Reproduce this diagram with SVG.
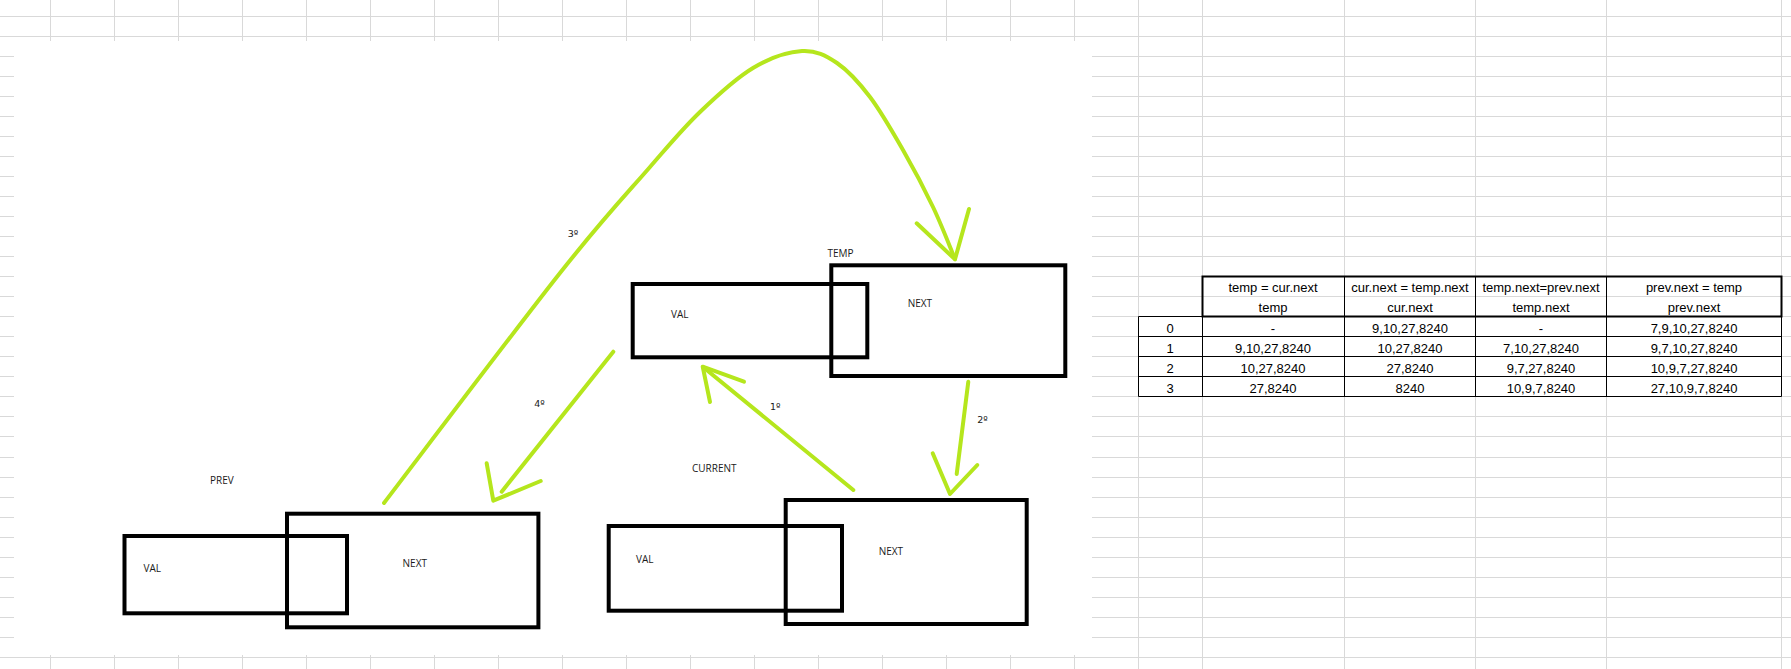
<svg xmlns="http://www.w3.org/2000/svg" width="1791" height="669" viewBox="0 0 1791 669">
  <defs>
    <style>
      .grid { stroke: #d9d9d9; stroke-width: 1; fill: none; }
      .box { fill: none; stroke: #000; stroke-width: 4; }
      .lbl { font-family: "Open Sans", "Liberation Sans", sans-serif; font-size: 10px; fill: #1a1a1a; }
      .ord { font-family: "DejaVu Sans", "Liberation Sans", sans-serif; font-size: 9.5px; fill: #1a1a1a; }
      .arr { fill: none; stroke: #b5e61d; stroke-width: 4; stroke-linecap: round; stroke-linejoin: round; }
      .tb { stroke: #000; stroke-width: 1; fill: none; }
      .tbh { stroke: #000; stroke-width: 2; fill: none; }
      .tt { font-family: "Liberation Sans", Arial, sans-serif; font-size: 13px; fill: #000; text-anchor: middle; }
    </style>
  </defs>
  <rect x="0" y="0" width="1791" height="669" fill="#fff"/>
  <g id="grid">
    <path class="grid" d="M0,16.5H1791 M0,36.5H1791 M0,56.5H1791 M0,76.5H1791 M0,96.5H1791 M0,116.5H1791 M0,136.5H1791 M0,156.5H1791 M0,176.5H1791 M0,196.5H1791 M0,216.5H1791 M0,236.5H1791 M0,256.5H1791 M0,276.5H1791 M0,296.5H1791 M0,316.5H1791 M0,336.5H1791 M0,356.5H1791 M0,376.5H1791 M0,396.5H1791 M0,416.5H1791 M0,436.5H1791 M0,457.5H1791 M0,477.5H1791 M0,497.5H1791 M0,517.5H1791 M0,537.5H1791 M0,557.5H1791 M0,577.5H1791 M0,597.5H1791 M0,617.5H1791 M0,637.5H1791 M0,657.5H1791"/>
    <path class="grid" d="M50.5,0V669 M114.5,0V669 M178.5,0V669 M242.5,0V669 M306.5,0V669 M370.5,0V669 M434.5,0V669 M498.5,0V669 M562.5,0V669 M626.5,0V669 M690.5,0V669 M754.5,0V669 M818.5,0V669 M882.5,0V669 M946.5,0V669 M1010.5,0V669 M1074.5,0V669 M1138.5,0V669 M1202.5,0V669 M1344.5,0V669 M1475.5,0V669 M1606.5,0V669 M1781.5,0V669"/>
  </g>
  <rect id="canvas" x="14" y="41" width="1078" height="614" fill="#fff"/>
  <g id="table">
    <rect class="tbh" x="1202.5" y="276.5" width="579" height="40"/>
    <path class="tb" d="M1344.5,276.5V396.5 M1475.5,276.5V396.5 M1606.5,276.5V396.5 M1138.5,316.5V396.5 M1202.5,316.5V396.5 M1781.5,316.5V396.5 M1138.5,316.5H1202.5 M1138.5,336.5H1781.5 M1138.5,356.5H1781.5 M1138.5,376.5H1781.5 M1138.5,396.5H1781.5"/>
    <text class="tt" x="1273" y="291.5">temp = cur.next</text>
    <text class="tt" x="1410" y="291.5">cur.next = temp.next</text>
    <text class="tt" x="1541" y="291.5">temp.next=prev.next</text>
    <text class="tt" x="1694" y="291.5">prev.next = temp</text>
    <text class="tt" x="1273" y="312">temp</text>
    <text class="tt" x="1410" y="312">cur.next</text>
    <text class="tt" x="1541" y="312">temp.next</text>
    <text class="tt" x="1694" y="312">prev.next</text>
    <text class="tt" x="1170" y="332.5">0</text>
    <text class="tt" x="1273" y="332.5">-</text>
    <text class="tt" x="1410" y="332.5">9,10,27,8240</text>
    <text class="tt" x="1541" y="332.5">-</text>
    <text class="tt" x="1694" y="332.5">7,9,10,27,8240</text>
    <text class="tt" x="1170" y="352.5">1</text>
    <text class="tt" x="1273" y="352.5">9,10,27,8240</text>
    <text class="tt" x="1410" y="352.5">10,27,8240</text>
    <text class="tt" x="1541" y="352.5">7,10,27,8240</text>
    <text class="tt" x="1694" y="352.5">9,7,10,27,8240</text>
    <text class="tt" x="1170" y="372.5">2</text>
    <text class="tt" x="1273" y="372.5">10,27,8240</text>
    <text class="tt" x="1410" y="372.5">27,8240</text>
    <text class="tt" x="1541" y="372.5">9,7,27,8240</text>
    <text class="tt" x="1694" y="372.5">10,9,7,27,8240</text>
    <text class="tt" x="1170" y="392.5">3</text>
    <text class="tt" x="1273" y="392.5">27,8240</text>
    <text class="tt" x="1410" y="392.5">8240</text>
    <text class="tt" x="1541" y="392.5">10,9,7,8240</text>
    <text class="tt" x="1694" y="392.5">27,10,9,7,8240</text>
  </g>
  <g id="node-prev">
    <rect class="box" x="124.5" y="536" width="222.5" height="77.3"/>
    <rect class="box" x="287" y="513.7" width="251.4" height="113.6"/>
    <text class="lbl" x="210" y="484.3">PREV</text>
    <text class="lbl" x="143.5" y="571.7">VAL</text>
    <text class="lbl" x="402.6" y="567.3">NEXT</text>
  </g>
  <g id="node-current">
    <rect class="box" x="608.7" y="526" width="233.3" height="84.7"/>
    <rect class="box" x="785.7" y="500" width="241" height="124"/>
    <text class="lbl" x="692" y="472.3">CURRENT</text>
    <text class="lbl" x="636" y="562.7">VAL</text>
    <text class="lbl" x="878.7" y="555.3">NEXT</text>
  </g>
  <g id="node-temp">
    <rect class="box" x="632.7" y="284" width="234.6" height="73.3"/>
    <rect class="box" x="831.3" y="265.3" width="234" height="110.7"/>
    <text class="lbl" x="827.5" y="256.7">TEMP</text>
    <text class="lbl" x="671" y="318.3">VAL</text>
    <text class="lbl" x="907.7" y="307.3">NEXT</text>
  </g>
  <g id="connectors">
    <path class="arr" d="M384,503 C413.3,464.7 515.7,329 560,273 C604.3,217 626.7,193.8 650,167 C673.3,140.2 682.8,128.5 700,112 C717.2,95.5 736,78.2 753,68 C770,57.8 788,51.8 802,51 C816,50.2 825.7,55.3 837,63 C848.3,70.7 859,82.5 870,97 C881,111.5 892.5,131.7 903,150 C913.5,168.3 924.3,188.8 933,207 C941.7,225.2 951.3,250.3 955,259"/>
    <polyline class="arr" points="916.7,223.3 955,259.3 969,209"/>
    <path class="arr" d="M613.3,351.7 L501.7,491.7"/>
    <polyline class="arr" points="486.7,463.3 493.3,500.7 540.7,481"/>
    <path class="arr" d="M853.3,490 L703,367"/>
    <polyline class="arr" points="744,381.7 702.7,366.7 710,402"/>
    <path class="arr" d="M968.3,381.7 L956.7,474"/>
    <polyline class="arr" points="932.7,453.3 950,494 977.3,465"/>
    <text class="ord" x="567.7" y="236.7">3º</text>
    <text class="ord" x="534.3" y="406.7">4º</text>
    <text class="ord" x="770" y="410">1º</text>
    <text class="ord" x="977.3" y="423.3">2º</text>
  </g>
</svg>
